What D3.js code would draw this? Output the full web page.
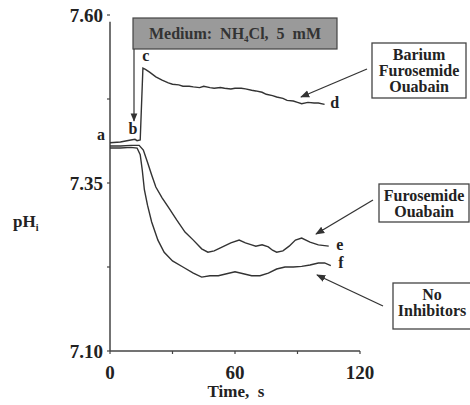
<!DOCTYPE html>
<html>
<head>
<meta charset="UTF-8">
<script src="https://d3js.org/d3.v7.min.js"></script>
</head>
<body style="margin:0">
<script>
    // time (s) and pHi for each trace
    const timeD = [0, 5, 10, 12, 13, 14.5, 15.8, 17, 19, 22, 25, 28, 30, 33, 35, 38, 40, 43, 45, 48, 50, 53, 55, 58, 60, 63, 65, 68, 70, 73, 75, 78, 80, 83, 85, 88, 90, 92, 95, 98, 100, 103];
    const phD   = [7.410, 7.411, 7.414, 7.415, 7.413, 7.414, 7.521, 7.519, 7.515, 7.508, 7.503, 7.499, 7.497, 7.496, 7.494, 7.494, 7.493, 7.492, 7.494, 7.492, 7.491, 7.492, 7.491, 7.490, 7.491, 7.491, 7.490, 7.488, 7.487, 7.485, 7.482, 7.480, 7.478, 7.476, 7.473, 7.472, 7.470, 7.468, 7.470, 7.469, 7.469, 7.467];

    const timeE = [0, 5, 10, 14, 16, 18, 20, 22, 25, 28, 32, 36, 40, 44, 47, 50, 54, 58, 62, 65, 68, 70, 73, 76, 78, 80, 83, 86, 89, 92, 96, 100, 105];
    const phE   = [7.405, 7.405, 7.406, 7.406, 7.399, 7.381, 7.362, 7.344, 7.328, 7.314, 7.295, 7.277, 7.265, 7.252, 7.247, 7.249, 7.255, 7.261, 7.265, 7.261, 7.258, 7.256, 7.258, 7.255, 7.250, 7.247, 7.249, 7.256, 7.265, 7.268, 7.262, 7.258, 7.256];

    const timeF = [0, 5, 10, 13, 14.5, 15.5, 16.5, 18, 20, 23, 26, 30, 35, 40, 44, 48, 52, 56, 60, 64, 68, 72, 76, 80, 84, 88, 92, 96, 100, 103, 106];
    const phF   = [7.402, 7.402, 7.403, 7.402, 7.392, 7.369, 7.340, 7.317, 7.292, 7.265, 7.247, 7.234, 7.225, 7.216, 7.210, 7.212, 7.212, 7.215, 7.218, 7.215, 7.212, 7.212, 7.216, 7.222, 7.225, 7.225, 7.226, 7.228, 7.231, 7.231, 7.227];

    const yTicks = [7.10, 7.35, 7.60];
    const yMinor = [7.225, 7.475];
    const xTicks = [0, 60, 120];
    const xMinor = [30, 90];

    const width = 470, height = 405;
    const x = d3.scaleLinear().domain([0, 120]).range([110, 360]);
    const y = d3.scaleLinear().domain([7.10, 7.60]).range([351, 15]);

    const svg = d3.select("body").append("svg").attr("width", width).attr("height", height);

    // all text in bold serif
    function label(sel, size) {
        return sel.attr("font-family", "Liberation Serif").attr("font-weight", "bold")
            .style("font-family", "'Liberation Serif', Tinos, serif")
            .attr("font-size", size).attr("fill", "#222");
    }

    // axes
    svg.append("line").attr("x1", x(0)).attr("x2", x(0)).attr("y1", y(7.59)).attr("y2", y(7.10))
        .attr("stroke", "#444").attr("stroke-width", 1.5);
    svg.append("line").attr("x1", x(0)).attr("x2", x(120)).attr("y1", y(7.10)).attr("y2", y(7.10))
        .attr("stroke", "#444").attr("stroke-width", 1.5);

    svg.selectAll(".ytick").data(yTicks.concat(yMinor)).enter().append("line")
        .attr("x1", x(0) - 3).attr("x2", x(0)).attr("y1", d => y(d)).attr("y2", d => y(d))
        .attr("stroke", "#444").attr("stroke-width", 1.2);
    svg.selectAll(".xtick").data(xTicks.concat(xMinor)).enter().append("line")
        .attr("x1", d => x(d)).attr("x2", d => x(d)).attr("y1", y(7.10)).attr("y2", y(7.10) + 3)
        .attr("stroke", "#444").attr("stroke-width", 1.2);

    label(svg.selectAll(".ylab").data(yTicks).enter().append("text"), 19)
        .attr("x", x(0) - 7).attr("y", d => y(d)).attr("dy", "0.35em")
        .attr("text-anchor", "end").text(d => d.toFixed(2));
    label(svg.selectAll(".xlab").data(xTicks).enter().append("text"), 19)
        .attr("x", d => x(d)).attr("y", 379).attr("text-anchor", "middle").text(d => d);

    label(svg.append("text"), 17).attr("x", 236).attr("y", 397).attr("text-anchor", "middle")
        .attr("xml:space", "preserve").text("Time,  s");
    const ph = label(svg.append("text"), 17).attr("x", 13).attr("y", 227);
    ph.append("tspan").text("pH");
    ph.append("tspan").attr("dy", 4).attr("font-size", 10).text("i");

    // traces
    const line = d3.line().x(d => x(d[0])).y(d => y(d[1])).curve(d3.curveLinear);
    [[timeD, phD], [timeE, phE], [timeF, phF]].forEach(([t, p]) => {
        svg.append("path").datum(t.map((v, i) => [v, p[i]]))
            .attr("d", line).attr("fill", "none")
            .attr("stroke", "#333").attr("stroke-width", 1.4);
    });

    // medium bar
    svg.append("rect").attr("x", 133).attr("y", 18).attr("width", 204).attr("height", 31)
        .attr("fill", "#9a9a9a").attr("stroke", "#444").attr("stroke-width", 1.2);
    const med = label(svg.append("text"), 16).attr("x", 235).attr("y", 39).attr("text-anchor", "middle")
        .attr("fill", "#333").attr("xml:space", "preserve");
    med.append("tspan").text("Medium:  NH");
    med.append("tspan").attr("dy", 3).attr("font-size", 9).text("4");
    med.append("tspan").attr("dy", -3).text("Cl,  5  mM");

    // arrow heads
    const defs = svg.append("defs");
    defs.append("marker").attr("id", "ah").attr("viewBox", "0 0 10 10").attr("refX", 9).attr("refY", 5)
        .attr("markerWidth", 7).attr("markerHeight", 7).attr("orient", "auto")
        .append("path").attr("d", "M0,1 L10,5 L0,9 z").attr("fill", "#333");

    svg.append("line").attr("x1", 134).attr("x2", 134).attr("y1", 49).attr("y2", 121)
        .attr("stroke", "#333").attr("stroke-width", 1.2).attr("marker-end", "url(#ah)");

    // point letters
    const letters = [["a", 0, 7.41, -9, -3], ["b", 12, 7.414, -2, -6], ["c", 15.8, 7.521, 3, -7],
                     ["d", 103, 7.467, 10, 4], ["e", 105, 7.256, 11, 4], ["f", 106, 7.227, 10, 2]];
    label(svg.selectAll(".pl").data(letters).enter().append("text"), 16)
        .attr("x", d => x(d[1]) + d[3]).attr("y", d => y(d[2]) + d[4])
        .attr("text-anchor", "middle").text(d => d[0]);

    // annotation boxes
    const notes = [
        { lines: ["Barium", "Furosemide", "Ouabain"], bx: 372, by: 43, bw: 94, bh: 55, ax: [367, 69, 301, 97] },
        { lines: ["Furosemide", "Ouabain"], bx: 379, by: 184, bw: 90, bh: 38, ax: [373, 200, 316, 234] },
        { lines: ["No", "Inhibitors"], bx: 393, by: 283, bw: 78, bh: 46, ax: [383, 306, 317, 275] }
    ];
    notes.forEach(n => {
        svg.append("rect").attr("x", n.bx).attr("y", n.by).attr("width", n.bw).attr("height", n.bh)
            .attr("fill", "#fff").attr("stroke", "#444").attr("stroke-width", 1.3);
        n.lines.forEach((l, i) => {
            label(svg.append("text"), 16).attr("x", n.bx + n.bw / 2).attr("y", n.by + 17 + i * 16)
                .attr("text-anchor", "middle").text(l);
        });
        svg.append("line").attr("x1", n.ax[0]).attr("y1", n.ax[1]).attr("x2", n.ax[2]).attr("y2", n.ax[3])
            .attr("stroke", "#333").attr("stroke-width", 1.3).attr("marker-end", "url(#ah)");
    });
</script>
</body>
</html>
